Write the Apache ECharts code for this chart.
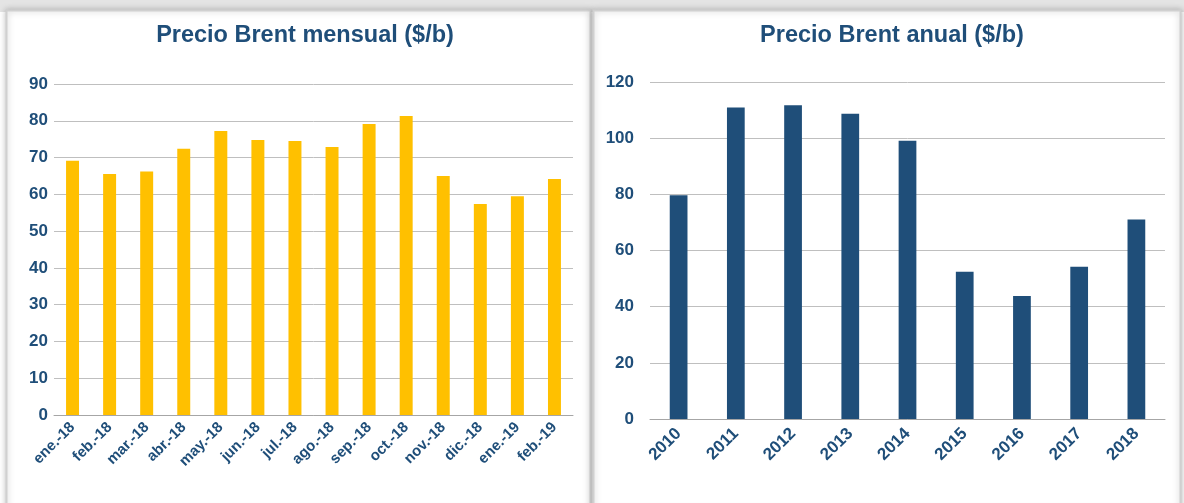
<!DOCTYPE html>
<html><head><meta charset="utf-8">
<script src="https://cdn.jsdelivr.net/npm/echarts@6/dist/echarts.min.js"></script>
<style>html,body{margin:0;padding:0;background:#fff}#c{width:1184px;height:503px}</style>
</head><body><div id="c"></div>
<script>
const monthCats = ['ene.-18','feb.-18','mar.-18','abr.-18','may.-18','jun.-18','jul.-18','ago.-18','sep.-18','oct.-18','nov.-18','dic.-18','ene.-19','feb.-19'];
const monthVals = [69.1,65.5,66.2,72.4,77.2,74.8,74.5,72.9,79.1,81.3,65.0,57.4,59.5,64.2];
const yearCats = ['2010','2011','2012','2013','2014','2015','2016','2017','2018'];
const yearVals = [79.7,110.9,111.7,108.7,99.1,52.4,43.8,54.2,71.0];
const titleLeft = 'Precio Brent mensual ($/b)';
const titleRight = 'Precio Brent anual ($/b)';

const navy = '#1F4E79';
const font = 'Liberation Sans, Arial, sans-serif';
const chart = echarts.init(document.getElementById('c'), null, {renderer:'canvas'});
const axisLabelY = {color:navy, fontWeight:'bold', fontSize:17, fontFamily:font};
const axisLabelX = {color:navy, fontWeight:'bold', fontSize:15, fontFamily:font, rotate:45, margin:10, interval:0};
chart.setOption({
  animation:false,
  graphic:[
    {type:'rect', shape:{x:0,y:0,width:1184,height:12}, style:{fill:'#e4e4e4'}, z:-10},
    {type:'rect', shape:{x:6.5,y:10.5,width:584,height:500}, style:{fill:'#fff', stroke:'#d0d0d0', lineWidth:2, shadowBlur:6, shadowColor:'rgba(0,0,0,0.25)'}, z:-5},
    {type:'rect', shape:{x:593.5,y:10.5,width:587,height:500}, style:{fill:'#fff', stroke:'#d0d0d0', lineWidth:2, shadowBlur:6, shadowColor:'rgba(0,0,0,0.25)'}, z:-5}
  ],
  title:[
    {text:titleLeft, left:300, top:19, textAlign:'center', textStyle:{color:navy, fontSize:23.5, fontWeight:'bold', fontFamily:font}},
    {text:titleRight, left:887, top:19, textAlign:'center', textStyle:{color:navy, fontSize:23.5, fontWeight:'bold', fontFamily:font}}
  ],
  grid:[
    {left:54, top:84, width:519, height:331},
    {left:650, top:82, width:515, height:337}
  ],
  xAxis:[
    {type:'category', gridIndex:0, data:monthCats, axisLine:{lineStyle:{color:'#a6a6a6'}}, axisTick:{length:6, lineStyle:{color:'#a6a6a6'}}, axisLabel:axisLabelX},
    {type:'category', gridIndex:1, data:yearCats, axisLine:{lineStyle:{color:'#a6a6a6'}}, axisTick:{length:6, lineStyle:{color:'#a6a6a6'}}, axisLabel:Object.assign({}, axisLabelX, {fontSize:17, margin:12})}
  ],
  yAxis:[
    {type:'value', gridIndex:0, min:0, max:90, interval:10, axisLabel:Object.assign({}, axisLabelY, {margin:6}), splitLine:{lineStyle:{color:'#bfbfbf'}}, axisLine:{show:false}, axisTick:{show:false}},
    {type:'value', gridIndex:1, min:0, max:120, interval:20, axisLabel:Object.assign({}, axisLabelY, {margin:16}), splitLine:{lineStyle:{color:'#bfbfbf'}}, axisLine:{show:false}, axisTick:{show:false}}
  ],
  series:[
    {type:'bar', xAxisIndex:0, yAxisIndex:0, data:monthVals, barWidth:'35%', itemStyle:{color:'#FFC000'}},
    {type:'bar', xAxisIndex:1, yAxisIndex:1, data:yearVals, barWidth:'31%', itemStyle:{color:'#1F4E79'}}
  ]
});
</script></body></html>
